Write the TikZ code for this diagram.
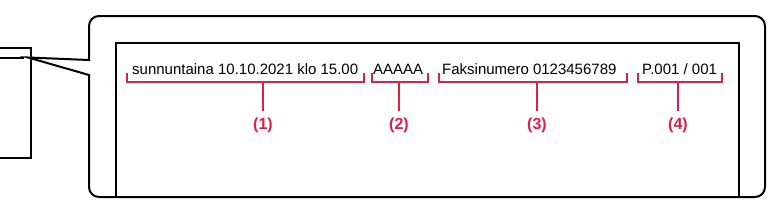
\documentclass[tikz,border=0pt]{standalone}
\usepackage{fontspec}
\setmainfont{Liberation Sans}
\definecolor{mred}{RGB}{221,30,72}
\begin{document}
\begin{tikzpicture}[x=1pt,y=-1pt,
  blk/.style={draw=black,line width=2pt},
  brk/.style={draw=mred,line width=1.3pt},
  txt/.style={font=\fontsize{15}{17}\selectfont,anchor=base west,inner sep=0pt},
  lbl/.style={font=\fontsize{16}{18}\selectfont\bfseries,text=mred,inner sep=0pt}]
\useasboundingbox (0,0) rectangle (769,207);
% small document at left
\draw[blk] (-5,48) -- (31,48) -- (31,158) -- (-5,158);
\coordinate (tip) at (28,57.5);
\draw[blk] (-5,57.5) -- (24,57.5);
% callout
\draw[blk] (89,75) [rounded corners=10] -- (89,197) -- (765,197) -- (765,16) -- (89,16) [sharp corners] -- (89,60) -- (tip) -- cycle;
% paper
\draw[blk] (116,197) -- (116,43) -- (739,43) -- (739,197);
% texts
\node[txt] (t1) at (132,74) {sunnuntaina 10.10.2021 klo 15.00};
\node[txt] (t2) at (373,74) {AAAAA};
\node[txt] (t3) at (442,74) {Faksinumero 0123456789};
\node[txt] (t4) at (642,74) {P.001 / 001};
% brackets
\draw[brk] (127,73) -- (127,82) -- (364,82) -- (364,73);
\draw[brk] (372,73) -- (372,82) -- (428,82) -- (428,73);
\draw[brk] (439,73) -- (439,82) -- (627,82) -- (627,73);
\draw[brk] (638,73) -- (638,82) -- (722,82) -- (722,73);
\node[lbl] (l1) at (263,125) {(1)};
\node[lbl] (l2) at (399,125) {(2)};
\node[lbl] (l3) at (537,125) {(3)};
\node[lbl] (l4) at (678,125) {(4)};
\draw[brk] (263,82) -- ([yshift=6pt]l1.north);
\draw[brk] (399,82) -- ([yshift=6pt]l2.north);
\draw[brk] (537,82) -- ([yshift=6pt]l3.north);
\draw[brk] (678,82) -- ([yshift=6pt]l4.north);
\end{tikzpicture}
\end{document}
